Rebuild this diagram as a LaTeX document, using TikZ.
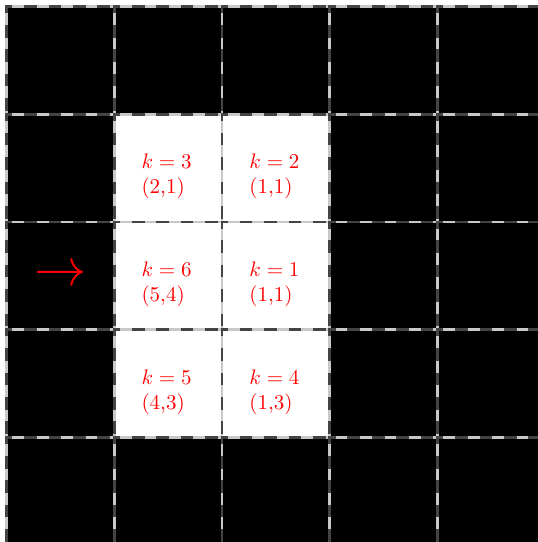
\documentclass[tikz,border=0pt]{standalone}
\usetikzlibrary{arrows.meta}
\definecolor{gridlight}{HTML}{C8C8C8}
\definecolor{griddark}{HTML}{444444}
\begin{document}
\begin{tikzpicture}[x=0.4753pt,y=-0.4753pt,
  cell/.style={minimum size=51.21pt, inner sep=0pt, outer sep=0pt,
    preaction={fill=#1},
    preaction={draw=gridlight, solid, line width=1.4pt},
    draw=griddark, line width=1.4pt, dash pattern=on 6pt off 5.6pt},
  lbl/.style={text=red, align=left, anchor=west, inner sep=0pt},
  arrowglyph/.style={text=red, inner sep=0pt, anchor=base, font=\Huge}
]
\useasboundingbox (0,0) rectangle (538,542);
\clip (0,0) rectangle (538,542);
\foreach \r in {0,...,4}{
  \foreach \c in {0,...,4}{
    \pgfmathtruncatemacro\w{(\r>0)*(\r<4)*(\c>0)*(\c<3)}
    \ifnum\w=1 \def\cf{white}\else\def\cf{black}\fi
    \node[cell=\cf] (cell-\r-\c) at ({60.375+107.75*\c},{60.375+107.75*\r}) {};
  }
}
\node[lbl] (l13) at (141.1,176.6) {$k=3$\\(2,1)};
\node[lbl] (l12) at (248.9,176.6) {$k=2$\\(1,1)};
\node[lbl] (l16) at (141.1,284.4) {$k=6$\\(5,4)};
\node[lbl] (l11) at (248.9,284.4) {$k=1$\\(1,1)};
\node[lbl] (l15) at (141.1,392.1) {$k=5$\\(4,3)};
\node[lbl] (l14) at (248.9,392.1) {$k=4$\\(1,3)};
\node[arrowglyph] (arrow) at (60.4,285.4) {$\rightarrow$};
\end{tikzpicture}
\end{document}
